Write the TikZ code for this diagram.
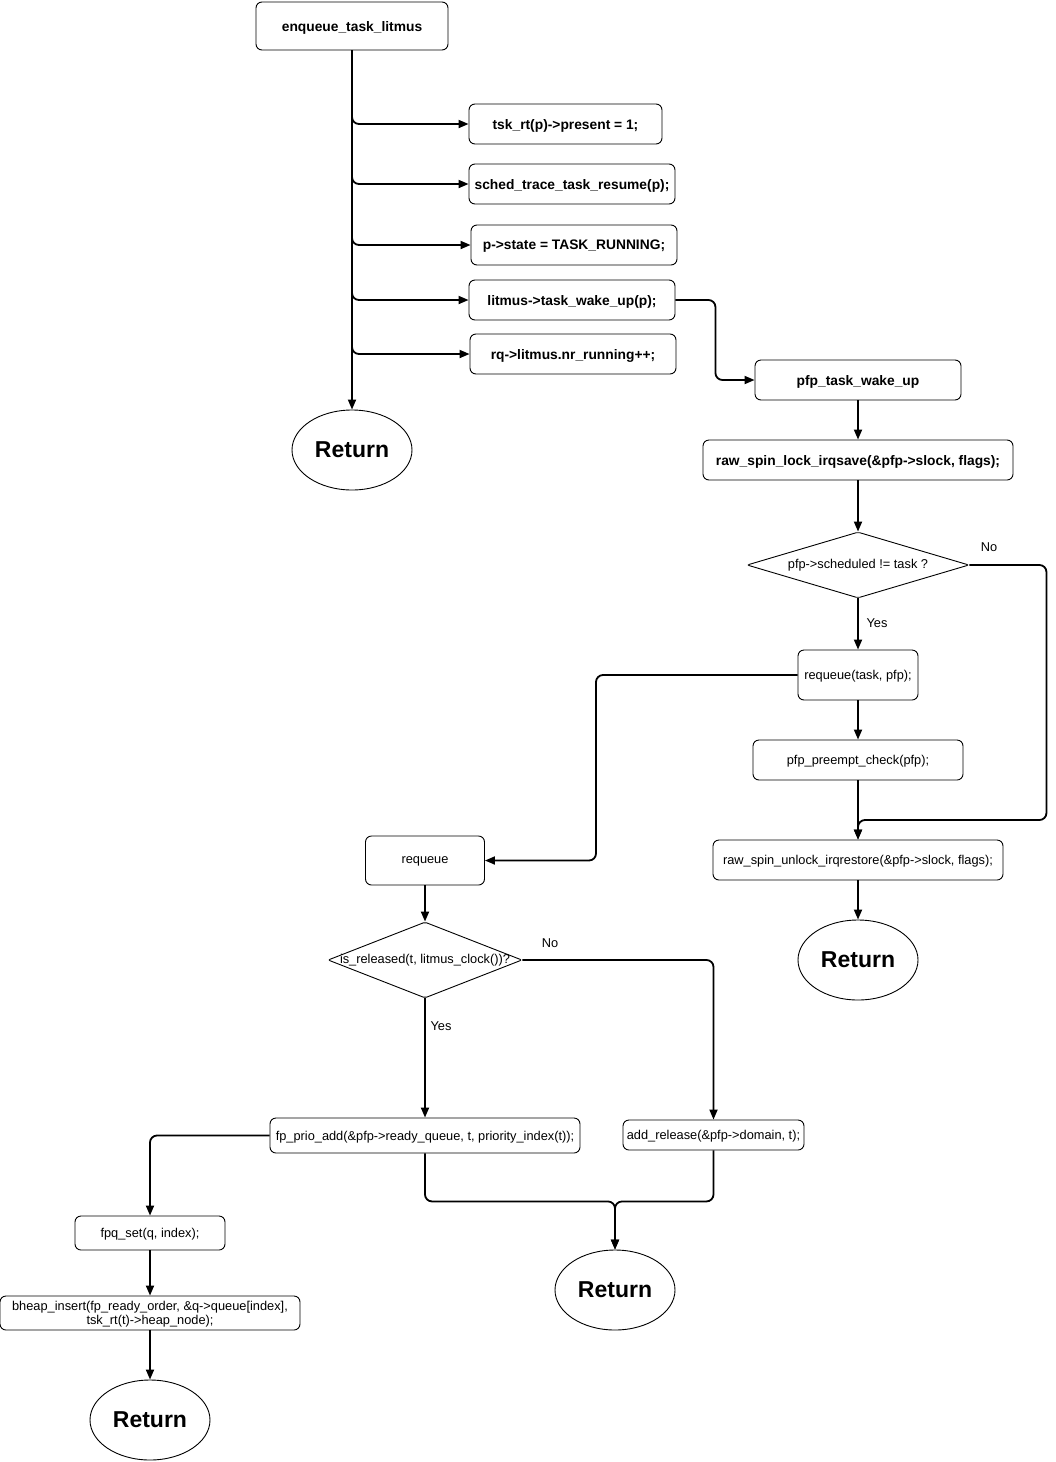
\documentclass[tikz,border=0pt]{standalone}
\usepackage{fontspec}
\setmainfont{Liberation Sans}
\usetikzlibrary{arrows.meta,shapes.geometric,calc}
\begin{document}
\begin{tikzpicture}[x=1pt,y=-1pt,
 box/.style={draw, rounded corners=6pt, line width=0.9pt, inner sep=0pt, align=center, text depth=0pt, font=\fontsize{12.8}{14}\selectfont},
 bbox/.style={box, font=\fontsize{13.8}{16}\selectfont\bfseries},
 ret/.style={draw, ellipse, line width=0.9pt, minimum width=120pt, minimum height=80pt, inner sep=0pt, font=\fontsize{23}{26}\selectfont\bfseries},
 dia/.style={draw, diamond, line width=0.9pt, inner sep=0pt, rounded corners=2pt, font=\fontsize{12.8}{15}\selectfont},
 conn/.style={line width=1.8pt, rounded corners=7pt, -{Triangle[length=10pt,width=8pt]}},
 lbl/.style={font=\fontsize{12.8}{15}\selectfont}
]
\useasboundingbox (0,0) rectangle (1056,1462);

\node[bbox, minimum width=192pt, minimum height=48pt] (enq) at (352,26) {enqueue\_task\_litmus};
\node[bbox, minimum width=193pt, minimum height=40pt] (b1) at (565.5,124) {tsk\_rt(p)->present = 1;};
\node[bbox, minimum width=206pt, minimum height=40pt] (b2) at (572,184) {sched\_trace\_task\_resume(p);};
\node[bbox, minimum width=206pt, minimum height=40pt] (b3) at (574,245) {p->state = TASK\_RUNNING;};
\node[bbox, minimum width=206pt, minimum height=40pt] (b4) at (572,300) {litmus->task\_wake\_up(p);};
\node[bbox, minimum width=206pt, minimum height=40pt] (b5) at (573,354) {rq->litmus.nr\_running++;};
\node[ret] (r1) at (352,450) {Return};

\node[bbox, minimum width=206pt, minimum height=40pt] (pw) at (858,380) {pfp\_task\_wake\_up};
\node[bbox, minimum width=310pt, minimum height=40pt] (lock) at (858,460) {raw\_spin\_lock\_irqsave(\&pfp->slock, flags);};
\node[dia, minimum width=222pt, minimum height=66pt] (d1) at (858,565) {\makebox[0pt]{pfp->scheduled != task ?}};
\node[box, minimum width=120pt, minimum height=50pt] (rq2) at (858,675) {requeue(task, pfp);};
\node[box, minimum width=210pt, minimum height=40pt] (pc) at (858,760) {pfp\_preempt\_check(pfp);};
\node[box, minimum width=290pt, minimum height=40pt] (unl) at (858,860) {raw\_spin\_unlock\_irqrestore(\&pfp->slock, flags);};
\node[ret] (r2) at (858,960) {Return};

\node[box, minimum width=119pt, minimum height=49pt] (rq) at (425,860.5) {requeue};
\node[dia, minimum width=194pt, minimum height=76pt] (d2) at (425,960) {\makebox[0pt]{is\_released(t, litmus\_clock())?}};
\node[box, minimum width=310pt, minimum height=35pt] (fp) at (425,1135.5) {fp\_prio\_add(\&pfp->ready\_queue, t, priority\_index(t));};
\node[box, minimum width=181pt, minimum height=30pt] (ar) at (713.5,1135) {add\_release(\&pfp->domain, t);};
\node[box, minimum width=150pt, minimum height=34pt] (fpq) at (150,1233) {fpq\_set(q, index);};
\node[box, minimum width=300pt, minimum height=34pt] (bh) at (150,1313) {bheap\_insert(fp\_ready\_order, \&q->queue[index],\\tsk\_rt(t)->heap\_node);};
\node[ret] (r3) at (150,1420) {Return};
\node[ret] (r4) at (615,1290) {Return};

\node[lbl] (no1) at (989,547) {No};
\node[lbl] (yes1) at (877,623) {Yes};
\node[lbl] (no2) at (550,943) {No};
\node[lbl] (yes2) at (441,1026) {Yes};

\draw[conn] (enq.south) -- (r1.north);
\foreach \b in {b1,b2,b3,b4,b5} {\draw[conn] (enq.south) |- (\b.west);}
\draw[conn] (b4.east) -- ++(40,0) |- (pw.west);
\draw[conn] (pw) -- (lock);
\draw[conn] (lock) -- (d1);
\draw[conn] (d1) -- (rq2);
\draw[conn] (rq2) -- (pc);
\draw[conn] (pc) -- (unl);
\draw[conn] (d1.east) -- ++(77,0) -- ++(0,255) -| (unl.north);
\draw[conn] (unl) -- (r2);
\draw[conn] (rq2.west) -| (596,760) |- (rq.east);
\draw[conn] (rq) -- (d2);
\draw[conn] (d2) -- (fp);
\draw[conn] (d2.east) -| (ar.north);
\draw[conn] (fp.west) -| (fpq.north);
\draw[conn] (fpq) -- (bh);
\draw[conn] (bh) -- (r3);
\draw[conn] (fp.south) -- ++(0,48) -| (r4.north);
\draw[conn] (ar.south) -- ++(0,51) -| (r4.north);
\end{tikzpicture}
\end{document}
